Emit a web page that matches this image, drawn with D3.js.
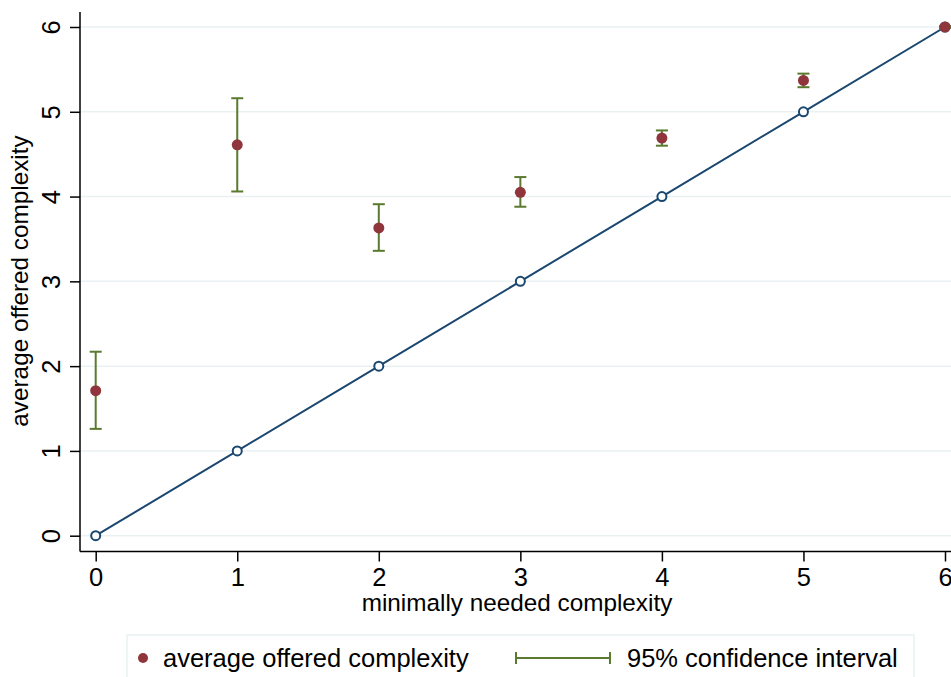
<!DOCTYPE html>
<html>
<head>
<meta charset="utf-8">
<script src="https://cdn.jsdelivr.net/npm/d3@7"></script>
<style>
  body { margin: 0; background: #fff; }
  text { font-family: "Liberation Sans", Arial, sans-serif; fill: #000; }
</style>
</head>
<body>
<div id="chart"></div>
<script>
// data
const needed = [0, 1, 2, 3, 4, 5, 6];
const offered = [1.71, 4.61, 3.63, 4.05, 4.69, 5.37, 6.0];
const ciLow = [1.26, 4.06, 3.36, 3.88, 4.60, 5.29, 5.99];
const ciHigh = [2.17, 5.16, 3.91, 4.23, 4.78, 5.45, 6.01];
const xTicks = [0, 1, 2, 3, 4, 5, 6];
const yTicks = [0, 1, 2, 3, 4, 5, 6];

const W = 951, H = 677;
const plotLeft = 80, plotRight = 951, plotTop = 12, plotBottom = 551.5;

const svg = d3.select("#chart").append("svg")
    .attr("width", W)
    .attr("height", H);

const x = d3.scaleLinear().domain([0, 6]).range([95.7, 945]);
const y = d3.scaleLinear().domain([0, 6]).range([535.7, 27]);

// gridlines
svg.append("g")
    .selectAll("line")
    .data(yTicks)
    .enter().append("line")
    .attr("x1", plotLeft)
    .attr("x2", plotRight)
    .attr("y1", d => y(d))
    .attr("y2", d => y(d))
    .style("stroke", "#eaf1f3")
    .style("stroke-width", 1.5);

// y axis
const yAxis = svg.append("g")
    .attr("transform", `translate(${plotLeft},0)`)
    .call(d3.axisLeft(y).tickValues(yTicks).tickSize(10).tickSizeOuter(0).tickFormat(d3.format("d")));
yAxis.select(".domain").attr("d", `M0,${plotTop}V${plotBottom}`).style("stroke", "#000").style("stroke-width", 1.5);
yAxis.selectAll(".tick line").style("stroke", "#000").style("stroke-width", 1.5);
yAxis.selectAll(".tick text")
    .attr("x", null).attr("dy", null)
    .attr("transform", "translate(-20,0) rotate(-90)")
    .attr("text-anchor", "middle")
    .style("font-size", "25.5px")
    .style("font-family", "Liberation Sans, Arial, sans-serif");

// x axis
const xAxis = svg.append("g")
    .attr("transform", `translate(0,${plotBottom})`)
    .call(d3.axisBottom(x).tickValues(xTicks).tickSize(10).tickSizeOuter(0).tickFormat(d3.format("d")));
xAxis.select(".domain").attr("d", `M${plotLeft},0H${plotRight}`).style("stroke", "#000").style("stroke-width", 1.5);
xAxis.selectAll(".tick line").style("stroke", "#000").style("stroke-width", 1.5);
xAxis.selectAll(".tick text")
    .attr("y", 34).attr("dy", null)
    .style("font-size", "25.5px")
    .style("font-family", "Liberation Sans, Arial, sans-serif");

// axis titles
svg.append("text")
    .attr("x", 517)
    .attr("y", 611)
    .attr("text-anchor", "middle")
    .style("font-size", "24.3px")
    .text("minimally needed complexity");

svg.append("text")
    .attr("transform", "translate(28,281) rotate(-90)")
    .attr("text-anchor", "middle")
    .style("font-size", "24.3px")
    .text("average offered complexity");

// 45 degree line
const line = d3.line().x(d => x(d)).y(d => y(d));
svg.append("path")
    .datum(needed)
    .attr("d", line)
    .style("fill", "none")
    .style("stroke", "#1a476f")
    .style("stroke-width", 2);

svg.append("g")
    .selectAll("circle")
    .data(needed)
    .enter().append("circle")
    .attr("cx", d => x(d))
    .attr("cy", d => y(d))
    .attr("r", 4.5)
    .style("fill", "#fff")
    .style("stroke", "#1a476f")
    .style("stroke-width", 2);

// confidence intervals
const ci = svg.append("g")
    .selectAll("g")
    .data(needed)
    .enter().append("g")
    .style("stroke", "#5a7a2f")
    .style("stroke-width", 2);
ci.append("line")
    .attr("x1", d => x(d)).attr("x2", d => x(d))
    .attr("y1", (d, i) => y(ciLow[i])).attr("y2", (d, i) => y(ciHigh[i]));
ci.append("line")
    .attr("x1", d => x(d) - 6).attr("x2", d => x(d) + 6)
    .attr("y1", (d, i) => y(ciLow[i])).attr("y2", (d, i) => y(ciLow[i]));
ci.append("line")
    .attr("x1", d => x(d) - 6).attr("x2", d => x(d) + 6)
    .attr("y1", (d, i) => y(ciHigh[i])).attr("y2", (d, i) => y(ciHigh[i]));

// means
svg.append("g")
    .selectAll("circle")
    .data(needed)
    .enter().append("circle")
    .attr("cx", d => x(d))
    .attr("cy", (d, i) => y(offered[i]))
    .attr("r", 5.5)
    .style("fill", "#90353b");

// legend
const lg = svg.append("g");
lg.append("rect")
    .attr("x", 127).attr("y", 635)
    .attr("width", 787).attr("height", 60)
    .style("fill", "#fff")
    .style("stroke", "#eaf1f3")
    .style("stroke-width", 1.5);
lg.append("circle")
    .attr("cx", 143).attr("cy", 658)
    .attr("r", 5)
    .style("fill", "#90353b");
lg.append("text")
    .attr("x", 163).attr("y", 667)
    .style("font-size", "25.5px")
    .text("average offered complexity");
lg.append("line")
    .attr("x1", 516).attr("x2", 610)
    .attr("y1", 658).attr("y2", 658)
    .style("stroke", "#5a7a2f").style("stroke-width", 2);
lg.append("line")
    .attr("x1", 516).attr("x2", 516)
    .attr("y1", 652).attr("y2", 664)
    .style("stroke", "#5a7a2f").style("stroke-width", 2);
lg.append("line")
    .attr("x1", 610).attr("x2", 610)
    .attr("y1", 652).attr("y2", 664)
    .style("stroke", "#5a7a2f").style("stroke-width", 2);
lg.append("text")
    .attr("x", 627).attr("y", 667)
    .style("font-size", "25.5px")
    .text("95% confidence interval");
</script>
</body>
</html>
